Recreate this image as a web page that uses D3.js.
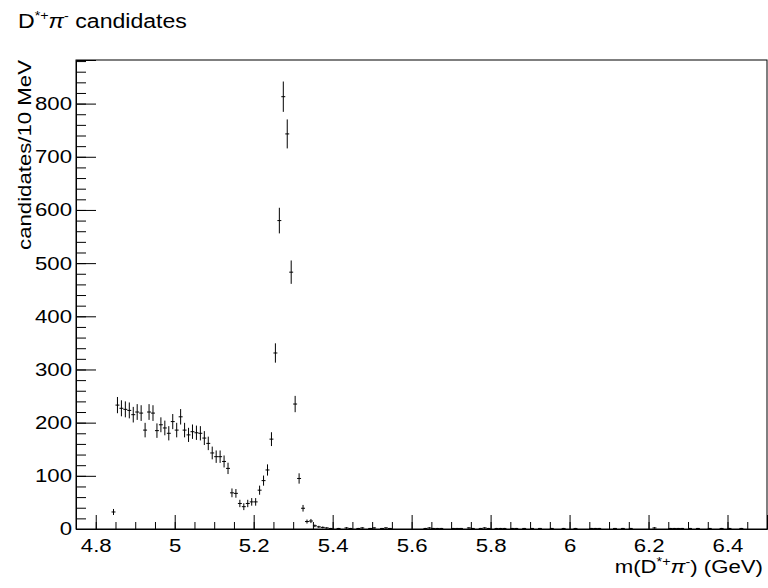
<!DOCTYPE html>
<html><head><meta charset="utf-8">
<script src="https://cdn.jsdelivr.net/npm/d3@7"></script>
<style>
body{margin:0;background:#fff;}
text{font-family:"Liberation Sans",Arial,Helvetica,sans-serif;}
</style></head>
<body><svg id="c" width="768" height="588"></svg>
<script>
// ---- data ----
const binStart = 4.75, binWidth = 0.01;
const leadCounts = [0,0,0,0,0,0,0,0,0,32];               // 4.755 .. 4.845
const sidebandCounts = [233,227,225,223,215,220,218,186,220,218,185,196,190,180,202,186,211,186,177,183,181,180,171,161,143,136,136,127,114,68,67,48,42,48,51,51]; // 4.855 .. 5.205
const peakCounts = [73,91,111,169,331,580,813,743,483,235,95,39,14,15,6];   // 5.215 .. 5.355
const tailCounts = [4,3,2,1,0,1,0,2,1,0,1,2,0,1,2,0,1,2,1,0,0,0,0,0,0,0,0,1,2,1,1,1,0,0,1,1,1,0,2,1,0,1,2,1,0,1,1,1,0,1,1,0,1,0,1,0,1,0,0,1,0,0,1,0,0,1,0,0,0,1,1,1,0,0,0,1,0,1,0,1,0,0,0,0,0,2,0,0,0,1,1,1,1,0,1,0,1,0,0,1,0,0,1,0,1,0,0,1,0,0,0,0,0,0]; // 5.365 .. 6.495
const counts = leadCounts.concat(sidebandCounts, peakCounts, tailCounts);
const xMajorTicks = [4.8,5.0,5.2,5.4,5.6,5.8,6.0,6.2,6.4];
const xTickLabels = ["4.8","5","5.2","5.4","5.6","5.8","6","6.2","6.4"];
const yMajorTicks = [0,100,200,300,400,500,600,700,800];
const yTickLabels = ["0","100","200","300","400","500","600","700","800"];

// ---- layout ----
const L=76, R=767, T=60, B=529;
const SX = 1.2; // horizontal glyph stretch to match reference text widths
const svg = d3.select("#c");
const x = d3.scaleLinear().domain([4.75,6.5]).range([L,R]);
const y = d3.scaleLinear().domain([0,882]).range([B,T]);

// frame
svg.append("rect").attr("x",L).attr("y",T).attr("width",R-L).attr("height",B-T)
  .attr("fill","none").attr("stroke","#000").attr("stroke-width",1);

// x axis
const xMinor = d3.range(0,36).map(i=>4.75+i*0.05).filter(v=>v>4.751 && v<6.499);
svg.append("g").attr("transform",`translate(0,${B})`)
  .call(d3.axisBottom(x).tickValues(xMinor).tickSize(-7).tickFormat(""))
  .call(g=>g.select(".domain").remove());
svg.append("g").attr("transform",`translate(0,${B})`)
  .call(d3.axisBottom(x).tickValues(xMajorTicks).tickSize(-14).tickPadding(6)
     .tickFormat((d,i)=>xTickLabels[i]))
  .call(g=>g.select(".domain").attr("stroke","#000"))
  .call(g=>g.selectAll("text").attr("font-size",18.5).attr("fill","#000")
     .attr("y",0).attr("dy",0).attr("transform",`translate(0,23) scale(${SX},1)`));

// y axis
const yMinor = d3.range(0,45).map(i=>i*20).filter(v=>v>0 && v<882);
svg.append("g").attr("transform",`translate(${L},0)`)
  .call(d3.axisLeft(y).tickValues(yMinor).tickSize(-10).tickFormat(""))
  .call(g=>g.select(".domain").remove());
svg.append("g").attr("transform",`translate(${L},0)`)
  .call(d3.axisLeft(y).tickValues(yMajorTicks).tickSize(-20).tickPadding(4)
     .tickFormat((d,i)=>yTickLabels[i]))
  .call(g=>g.select(".domain").attr("stroke","#000"))
  .call(g=>g.selectAll("text").attr("font-size",18.5).attr("fill","#000")
     .attr("x",0).attr("transform",`translate(-4,0) scale(${SX},1)`));
svg.selectAll(".tick line").attr("stroke","#000");

// data points with Poisson errors
const pts = counts.map((c,i)=>({x: binStart + (i+0.5)*binWidth, v:c})).filter(d=>d.v>0);
const gp = svg.append("g").attr("stroke","#000").attr("stroke-width",1);
gp.selectAll("line.v").data(pts).join("line").attr("class","v")
  .attr("x1",d=>x(d.x)).attr("x2",d=>x(d.x))
  .attr("y1",d=>y(d.v+Math.sqrt(d.v))).attr("y2",d=>y(Math.max(0,d.v-Math.sqrt(d.v))));
gp.selectAll("line.h").data(pts).join("line").attr("class","h")
  .attr("x1",d=>x(d.x-binWidth/2)).attr("x2",d=>x(d.x+binWidth/2))
  .attr("y1",d=>y(d.v)).attr("y2",d=>y(d.v));

// titles
const t = svg.append("text").attr("transform","translate(18,28) scale(1.1,1)")
  .attr("font-size",21).attr("fill","#000");
t.append("tspan").text("D");
t.append("tspan").attr("dy",-8).attr("font-size",13).text("*+");
t.append("tspan").attr("dy",8).attr("font-style","italic").text("π");
t.append("tspan").attr("dy",-8).attr("font-size",13).text("-");
t.append("tspan").attr("dy",8).text(" candidates");

const xt = svg.append("text").attr("transform",`translate(763,573) scale(${SX},1)`).attr("font-size",18.5)
  .attr("text-anchor","end").attr("fill","#000");
xt.append("tspan").text("m(D");
xt.append("tspan").attr("dy",-7).attr("font-size",12).text("*+");
xt.append("tspan").attr("dy",7).attr("font-style","italic").text("π");
xt.append("tspan").attr("dy",-7).attr("font-size",12).text("-");
xt.append("tspan").attr("dy",7).text(") (GeV)");

svg.append("text").attr("transform",`translate(31,60) rotate(-90) scale(${SX},1)`)
  .attr("text-anchor","end").attr("font-size",18.5).attr("fill","#000")
  .text("candidates/10 MeV");
</script>
</body></html>
